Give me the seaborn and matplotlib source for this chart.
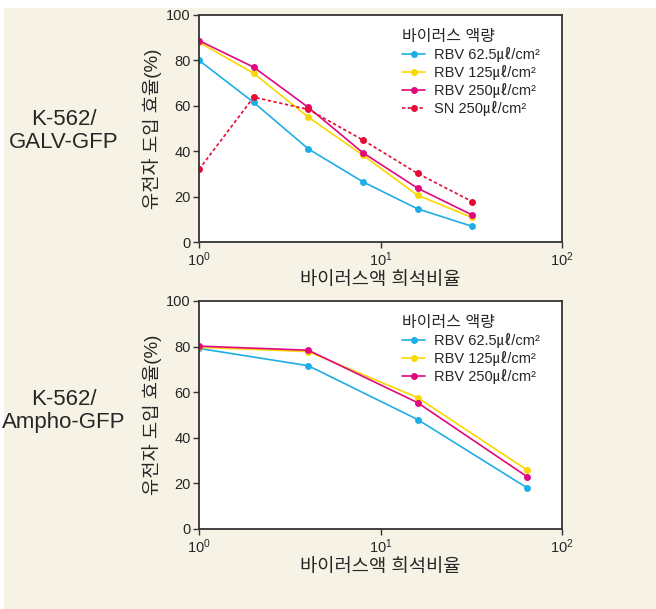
import matplotlib

matplotlib.use("Agg")
import matplotlib.pyplot as plt
import pandas as pd
import seaborn as sns
from matplotlib.patches import Rectangle

# top panel: K-562 / GALV-GFP
dilution_top = [1, 2, 4, 8, 16, 32]
rbv_62_top = [80, 61.5, 41, 26.5, 14.6, 6.9]
rbv_125_top = [88, 74.3, 55, 38.2, 20.6, 10.8]
rbv_250_top = [88.7, 77, 59.3, 39.3, 23.7, 11.9]
sn_250_top = [32, 63.8, 58.4, 44.9, 30.2, 17.8]

# bottom panel: K-562 / Ampho-GFP
dilution_bottom = [1, 4, 16, 64]
rbv_62_bottom = [79.2, 71.6, 48, 18.1]
rbv_125_bottom = [79.7, 77.8, 57.6, 25.9]
rbv_250_bottom = [80.2, 78.4, 55.4, 23]

series_names = ["RBV 62.5㎕/cm²", "RBV 125㎕/cm²", "RBV 250㎕/cm²", "SN 250㎕/cm²"]
series_colors = ["#1eaee6", "#f9d800", "#e2087f", "#e60b34"]
panel_labels = ["K-562/\nGALV-GFP", "K-562/\nAmpho-GFP"]

BG = "#f6f3e6"

sns.set_theme(style="white")
plt.rcParams["font.family"] = ["Liberation Sans", "Noto Sans CJK KR", "DejaVu Sans"]
plt.rcParams["axes.unicode_minus"] = False


def long_frame(x, columns):
    rows = []
    for name, values in columns:
        for xi, yi in zip(x, values):
            rows.append({"dilution": xi, "eff": yi, "series": name})
    return pd.DataFrame(rows)


df_top = long_frame(dilution_top, list(zip(series_names, [rbv_62_top, rbv_125_top, rbv_250_top, sn_250_top])))
df_bottom = long_frame(dilution_bottom, list(zip(series_names[:3], [rbv_62_bottom, rbv_125_bottom, rbv_250_bottom])))

fig = plt.figure(figsize=(6.56, 6.09), dpi=100)
fig.patch.set_facecolor("white")
fig.patches.append(Rectangle((4 / 656, 0), 1, 1 - 8 / 609, transform=fig.transFigure,
                             facecolor=BG, edgecolor="none", zorder=-10))

ax_top = fig.add_axes([0.3034, 0.6026, 0.5534, 0.3728])
ax_bottom = fig.add_axes([0.3034, 0.1314, 0.5534, 0.3744])

for ax, df, n, label, ylab_y in [
    (ax_top, df_top, 4, panel_labels[0], 0.785),
    (ax_bottom, df_bottom, 3, panel_labels[1], 0.325),
]:
    palette = dict(zip(series_names[:n], series_colors[:n]))
    dashes = {name: (2, 1.5) if name.startswith("SN") else "" for name in series_names[:n]}
    sns.lineplot(data=df, x="dilution", y="eff", hue="series", style="series",
                 hue_order=series_names[:n], style_order=series_names[:n],
                 palette=palette, dashes=dashes, markers={k: "o" for k in series_names[:n]},
                 markersize=5, markeredgewidth=0, linewidth=1.2, ax=ax)
    ax.set_xscale("log")
    ax.set_xlim(1, 100)
    ax.set_ylim(0, 100)
    ax.set_yticks([0, 20, 40, 60, 80, 100])
    ax.set_xticks([1, 10, 100])
    ax.xaxis.set_minor_locator(matplotlib.ticker.NullLocator())
    ax.set_facecolor("white")
    for sp in ax.spines.values():
        sp.set_color("#333333")
        sp.set_linewidth(1.3)
    ax.tick_params(axis="both", which="major", direction="out", length=4, width=1,
                   color="#333333", labelsize=10.5, pad=2, bottom=True, left=True)
    ax.set_xlabel("바이러스액 희석비율", fontsize=13.5, labelpad=2)
    ax.set_ylabel("유전자 도입 효율(%)", fontsize=13.5, labelpad=3)
    leg = ax.legend(title="바이러스 액량", loc="upper right", bbox_to_anchor=(0.963, 0.975),
                    frameon=False, fontsize=10.5, title_fontsize=11.5,
                    handlelength=1.6, handletextpad=0.6, labelspacing=0.2, borderaxespad=0.2)
    leg._legend_box.align = "left"
    fig.text(0.097, ylab_y, label, ha="center", va="center", fontsize=16, linespacing=1.1)

fig.savefig("out.png", dpi=100, facecolor=fig.get_facecolor())
